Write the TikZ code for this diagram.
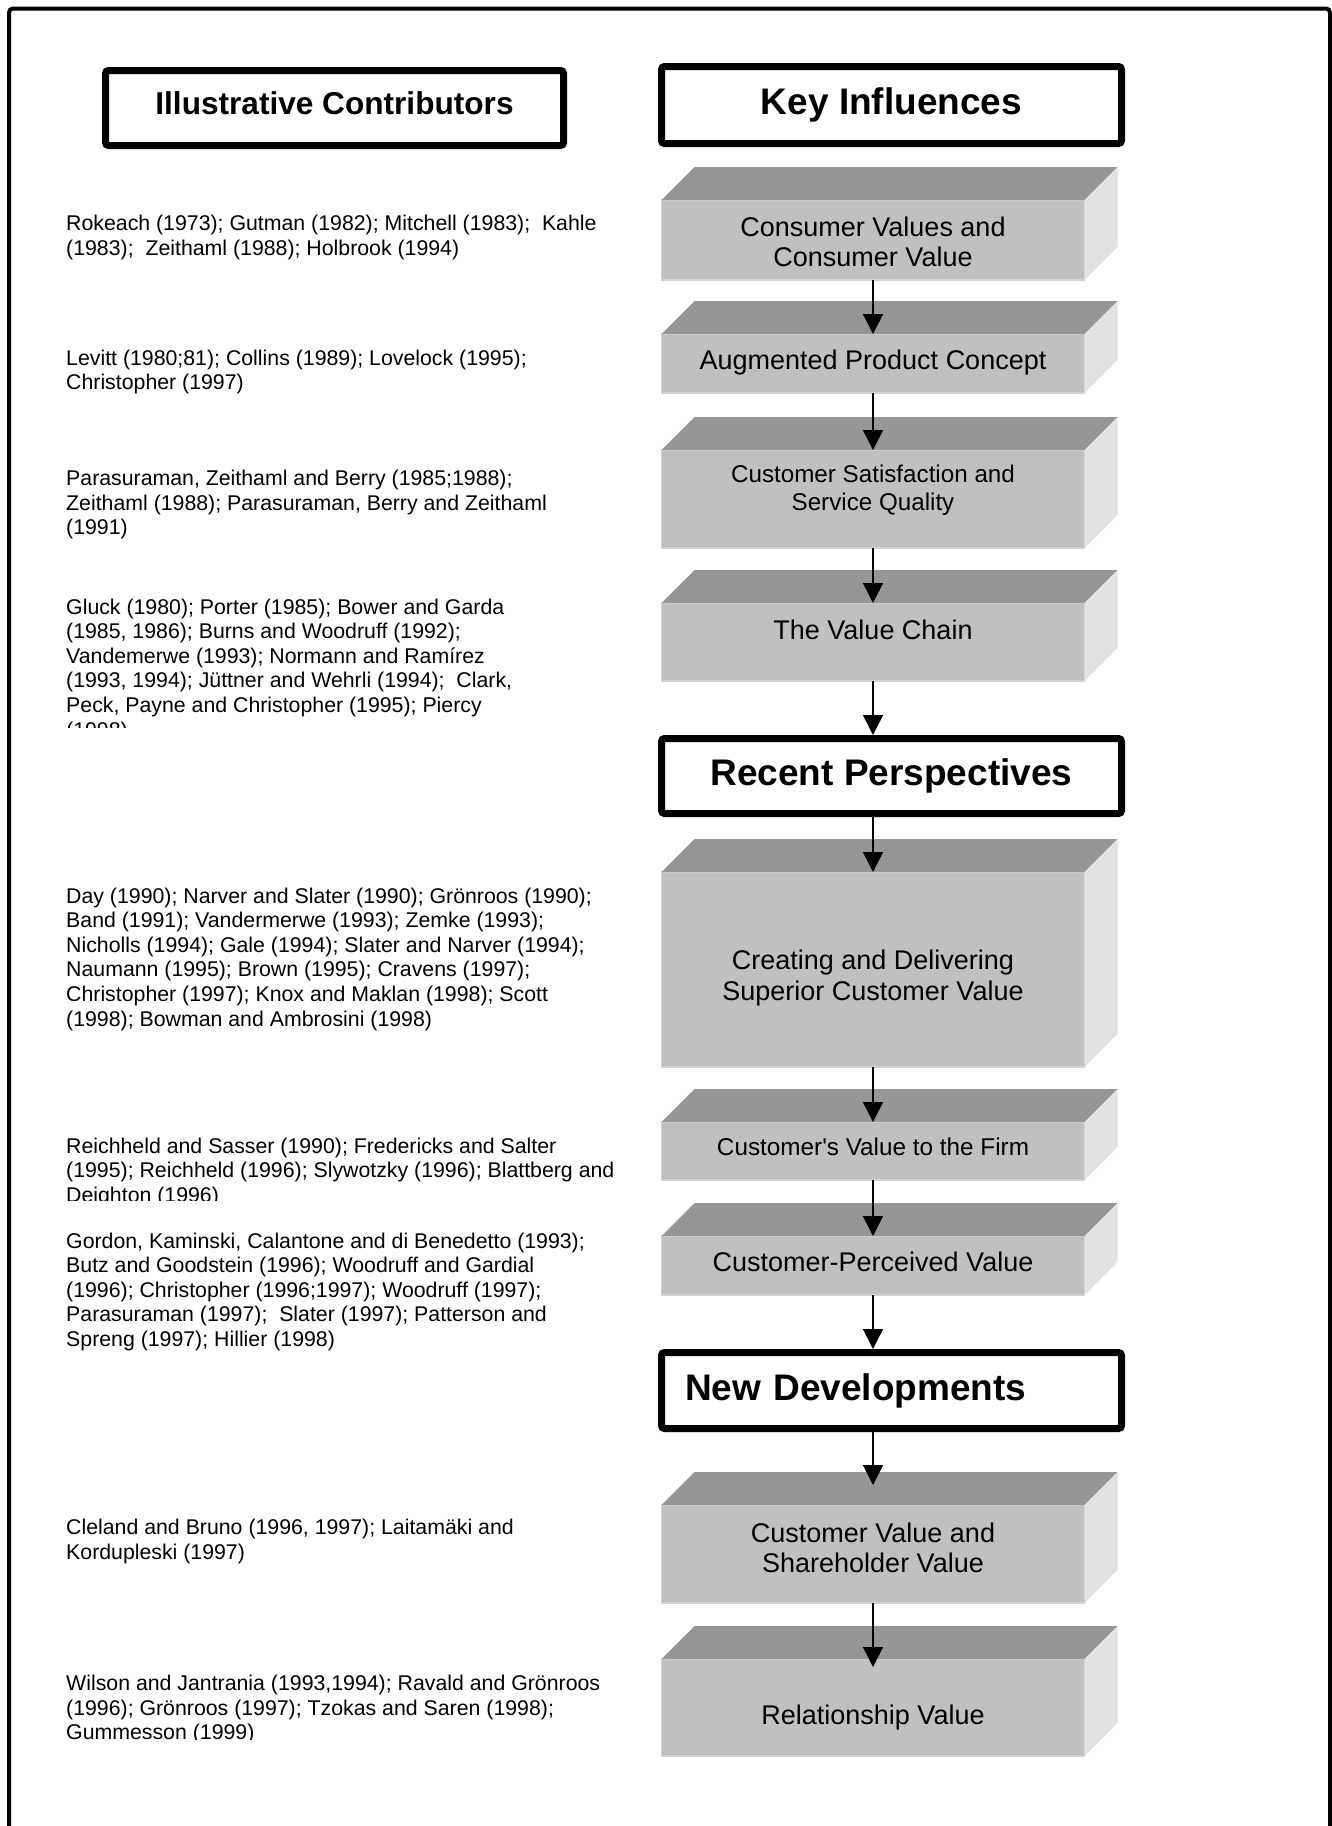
\documentclass[tikz,border=0pt]{standalone}
\usepackage{fontspec}
\setmainfont{Liberation Sans}
\usetikzlibrary{arrows.meta,calc}

\definecolor{frontgray}{RGB}{192,192,192}
\definecolor{topgray}{RGB}{150,150,150}
\definecolor{sidegray}{RGB}{226,226,226}
\definecolor{edgegray}{RGB}{210,210,210}

\tikzset{
  heading/.style={draw, line width=7pt, rounded corners=3pt, minimum width=460pt,
    minimum height=76pt, inner sep=0pt, font=\bfseries\fontsize{37}{44}\selectfont},
  slab/.style={fill=frontgray, draw=edgegray, line width=1.5pt, minimum width=423pt,
    inner sep=0pt, outer sep=0pt},
  slabtext/.style={align=center, inner sep=0pt, font=\fontsize{27}{30}\selectfont},
  refs/.style={anchor=north west, align=left, inner sep=0pt,
    font=\fontsize{21.3}{24.6}\selectfont},
  flow/.style={-{Triangle[width=20pt,length=20pt]}, line width=1.5pt},
}

\begin{document}
\begin{tikzpicture}[x=1pt, y=-1pt]
    \useasboundingbox (0,0) rectangle (1332,1826);

    % frame, open at the foot of the page
    \draw[line width=4pt, rounded corners=4pt] (9,1840) -- (9,8.5) -- (1330,8.5) -- (1330,1840);

    % headings
    \node[heading, font=\bfseries\fontsize{31.6}{38}\selectfont, minimum width=458pt,
        minimum height=75pt, text height=23pt, text depth=10pt] (ic) at (334.5,108)
        {Illustrative Contributors};
    \node[heading, minimum height=77pt] (ki) at (891.5,105) {Key Influences};
    \node[heading, minimum height=75pt] (rp) at (891.5,776) {Recent Perspectives};
    \node[heading, text width=413pt, align=left] (nd) at (891.5,1390.5) {New Developments};

    % front faces of the slabs
    \node[slab, minimum height=80pt] (cvv) at (873,240) {};
    \node[slab, minimum height=59pt] (apc) at (873,363.5) {};
    \node[slab, minimum height=98pt] (css) at (873,499) {};
    \node[slab, minimum height=78pt] (tvc) at (873,642) {};
    \node[slab, minimum height=195pt] (cdv) at (873,969.5) {};
    \node[slab, minimum height=58pt] (cvf) at (873,1151) {};
    \node[slab, minimum height=59pt] (cpv) at (873,1265.5) {};
    \node[slab, minimum height=98pt] (csv) at (873,1554) {};
    \node[slab, minimum height=97pt] (rv) at (873,1707.5) {};

    % top and side faces
    \foreach \s in {cvv,apc,css,tvc,cdv,cvf,cpv,csv,rv}{
        \fill[topgray] (\s.north west) -- ++(33,-33) -- ($(\s.north east)+(33,-33)$)
            -- (\s.north east) -- cycle;
        \fill[sidegray] (\s.north east) -- ++(33,-33) -- ($(\s.south east)+(33,-33)$)
            -- (\s.south east) -- cycle;
    }

    % slab labels
    \node[slabtext] (cvvt) at (873,242) {Consumer Values and\\Consumer Value};
    \node[slabtext] (apct) at (873,363) {Augmented Product Concept};
    \node[slabtext, font=\fontsize{24.2}{28}\selectfont] (csst) at (873,490)
        {Customer Satisfaction and\\Service Quality};
    \node[slabtext] (tvct) at (873,630) {The Value Chain};
    \node[slabtext, font=\fontsize{27}{31.4}\selectfont] (cdvt) at (873,978)
        {Creating and Delivering\\Superior Customer Value};
    \node[slabtext, font=\fontsize{24.3}{28}\selectfont] (cvft) at (873,1147)
        {Customer\textquotesingle s Value to the Firm};
    \node[slabtext] (cpvt) at (873,1262) {Customer-Perceived Value};
    \node[slabtext] (csvt) at (873,1547.5) {Customer Value and\\Shareholder Value};
    \node[slabtext] (rvt) at (873,1717) {Relationship Value};

    % contributors
    \node[refs] (rka) at (66,215) {Rokeach (1973); Gutman (1982); Mitchell (1983);\ \ Kahle\\
        (1983);\ \ Zeithaml (1988); Holbrook (1994)};
    \node[refs] (lev) at (66,349.5) {Levitt (1980;81); Collins (1989); Lovelock (1995);\\
        Christopher (1997)};
    \node[refs] (par) at (66,470) {Parasuraman, Zeithaml and Berry (1985;1988);\\
        Zeithaml (1988); Parasuraman, Berry and Zeithaml\\(1991)};
    \begin{scope}
        \clip (40,580) rectangle (640,727);
        \node[refs] (glu) at (66,598.5) {Gluck (1980); Porter (1985); Bower and Garda\\
            (1985, 1986); Burns and Woodruff (1992);\\
            Vandemerwe (1993); Normann and Ramírez\\
            (1993, 1994); Jüttner and Wehrli (1994);\ \ Clark,\\
            Peck, Payne and Christopher (1995); Piercy\\(1998)};
    \end{scope}
    \node[refs] (day) at (66,887.5) {Day (1990); Narver and Slater (1990); Grönroos (1990);\\
        Band (1991); Vandermerwe (1993); Zemke (1993);\\
        Nicholls (1994); Gale (1994); Slater and Narver (1994);\\
        Naumann (1995); Brown (1995); Cravens (1997);\\
        Christopher (1997); Knox and Maklan (1998); Scott\\
        (1998); Bowman and Ambrosini (1998)};
    \begin{scope}
        \clip (40,1120) rectangle (640,1200);
        \node[refs] (rei) at (66,1137.5) {Reichheld and Sasser (1990); Fredericks and Salter\\
            (1995); Reichheld (1996); Slywotzky (1996); Blattberg and\\
            Deighton (1996)};
    \end{scope}
    \node[refs] (gor) at (66,1232.5) {Gordon, Kaminski, Calantone and di Benedetto (1993);\\
        Butz and Goodstein (1996); Woodruff and Gardial\\
        (1996); Christopher (1996;1997); Woodruff (1997);\\
        Parasuraman (1997);\ \ Slater (1997); Patterson and\\
        Spreng (1997); Hillier (1998)};
    \node[refs] (cle) at (66,1519) {Cleland and Bruno (1996, 1997); Laitamäki and\\
        Kordupleski (1997)};
    \begin{scope}
        \clip (40,1660) rectangle (640,1739);
        \node[refs] (wil) at (66,1675) {Wilson and Jantrania (1993,1994); Ravald and Grönroos\\
            (1996); Grönroos (1997); Tzokas and Saren (1998);\\
            Gummesson (1999)};
    \end{scope}

    % flow down the right column
    \draw[flow] (cvv.south) -- (apc.north);
    \draw[flow] (apc.south) -- (css.north);
    \draw[flow] (css.south) -- (tvc.north);
    \draw[flow] (tvc.south) -- (tvc.south |- rp.north);
    \draw[flow] (cdv.north |- rp.south) -- (cdv.north);
    \draw[flow] (cdv.south) -- (cvf.north);
    \draw[flow] (cvf.south) -- (cpv.north);
    \draw[flow] (cpv.south) -- (cpv.south |- nd.north);
    \draw[flow, shorten >=20pt] (csv.north |- nd.south) -- (csv.north);
    \draw[flow, shorten >=-8pt] (csv.south) -- (rv.north);
\end{tikzpicture}
\end{document}
